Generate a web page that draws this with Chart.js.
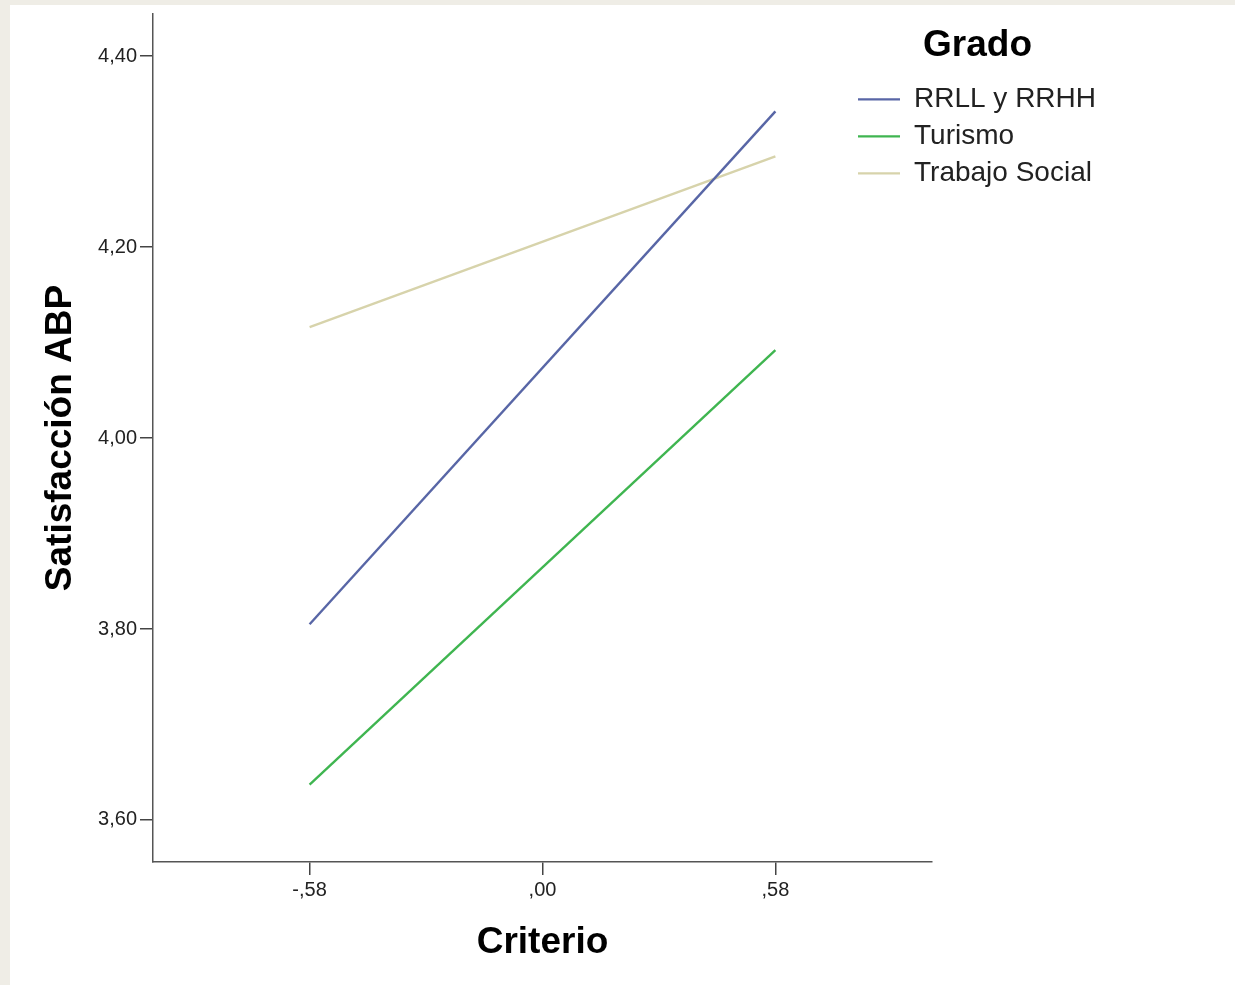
<!DOCTYPE html>
<html>
<head>
<meta charset="utf-8">
<script src="https://cdn.jsdelivr.net/npm/chart.js@4/dist/chart.umd.min.js"></script>
<style>
  html, body { margin: 0; padding: 0; background: #efede6; }
  #chart { position: absolute; left: 10px; top: 5px; background: #ffffff; }
</style>
</head>
<body>
<canvas id="chart" width="1225" height="980"></canvas>
<script>
// ***** data *****
const criterio = [-0.58, 0.58];
const rrllRrhh = [3.805, 4.342];
const turismo = [3.637, 4.092];
const trabajoSocial = [4.116, 4.295];

const seriesNames = ["RRLL y RRHH", "Turismo", "Trabajo Social"];

const xTicks = [-0.58, 0, 0.58];
const xTickLabels = ["-,58", ",00", ",58"];
const yTicks = [3.6, 3.8, 4.0, 4.2, 4.4];
const yTickLabels = ["3,60", "3,80", "4,00", "4,20", "4,40"];

const toPoints = (ys) => ys.map((y, i) => ({ x: criterio[i], y: y }));

// setup block
const data = {
  datasets: [
    {
      label: seriesNames[0],
      data: toPoints(rrllRrhh),
      borderColor: "#5866a6",
      backgroundColor: "#5866a6",
      borderWidth: 2.4,
      pointRadius: 0,
    },
    {
      label: seriesNames[1],
      data: toPoints(turismo),
      borderColor: "#3fb550",
      backgroundColor: "#3fb550",
      borderWidth: 2.4,
      pointRadius: 0,
    },
    {
      label: seriesNames[2],
      data: toPoints(trabajoSocial),
      borderColor: "#d7d3ab",
      backgroundColor: "#d7d3ab",
      borderWidth: 2.4,
      pointRadius: 0,
    },
  ],
};

// legend sits in the top right corner, overlapping the plot's right edge
const legendMover = {
  id: "legendMover",
  afterLayout(chart) {
    const lg = chart.legend;
    lg.left = 839;
    lg.top = 22;
    lg.right = lg.left + lg.width;
    lg.bottom = lg.top + 200;
    lg.height = 200;
  },
};

const axisFont = { family: "'Liberation Sans', Arial, sans-serif", size: 20 };
const titleFont = { family: "'Liberation Sans', Arial, sans-serif", size: 37, weight: "bold" };

// config block
const config = {
  type: "line",
  data,
  options: {
    responsive: false,
    maintainAspectRatio: false,
    animation: false,
    layout: { padding: { left: 0, top: 9, right: 303, bottom: 0 } },
    scales: {
      x: {
        type: "linear",
        min: -0.97,
        max: 0.97,
        afterBuildTicks: (scale) => {
          scale.ticks = xTicks.map((v) => ({ value: v }));
        },
        afterFit: (scale) => {
          scale.height = 123;
          scale.paddingLeft = 0;
          scale.paddingRight = 0;
        },
        ticks: {
          color: "#222",
          font: axisFont,
          padding: 3,
          maxRotation: 0,
          callback: (v, i) => xTickLabels[i],
        },
        grid: {
          drawOnChartArea: false,
          tickLength: 13,
          color: "#444",
          lineWidth: 1.5,
        },
        border: { display: true, color: "#555", width: 1.5 },
        title: {
          display: true,
          text: "Criterio",
          color: "#000",
          font: titleFont,
          padding: { top: 0, bottom: 20 },
        },
      },
      y: {
        min: 3.556,
        max: 4.444,
        afterBuildTicks: (scale) => {
          scale.ticks = yTicks.map((v) => ({ value: v }));
        },
        afterFit: (scale) => {
          scale.width = 143;
          scale.paddingTop = 0;
          scale.paddingBottom = 0;
        },
        ticks: {
          color: "#222",
          font: axisFont,
          padding: 3,
          callback: (v, i) => yTickLabels[i],
        },
        grid: {
          drawOnChartArea: false,
          tickLength: 13,
          color: "#444",
          lineWidth: 1.5,
        },
        border: { display: true, color: "#555", width: 1.5 },
        title: {
          display: true,
          text: "Satisfacción ABP",
          color: "#000",
          font: titleFont,
          padding: { top: 29, bottom: 0 },
        },
      },
    },
    plugins: {
      tooltip: { enabled: false },
      legend: {
        display: true,
        position: "chartArea",
        align: "start",
        title: {
          display: true,
          text: "Grado",
          color: "#000",
          position: "center",
          font: titleFont,
          padding: { top: 0, bottom: 5 },
        },
        labels: {
          usePointStyle: true,
          pointStyle: "line",
          pointStyleWidth: 42,
          padding: 9,
          color: "#222",
          font: { family: "'Liberation Sans', Arial, sans-serif", size: 28 },
        },
      },
    },
  },
  plugins: [legendMover],
};

const gradoChart = new Chart(document.getElementById("chart"), config);
</script>
</body>
</html>
